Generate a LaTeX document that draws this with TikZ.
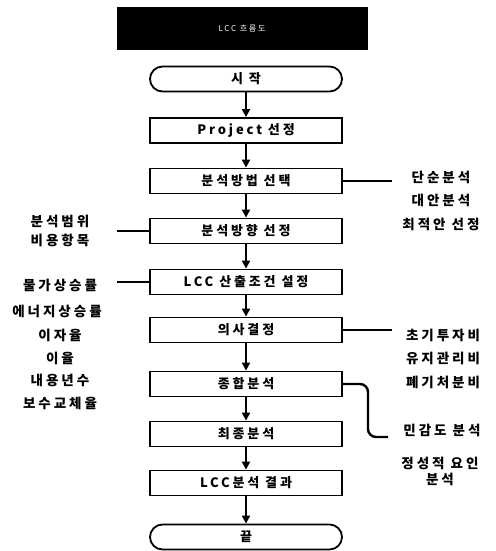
\documentclass[tikz,border=0pt]{standalone}
\usepackage{fontspec}
\usetikzlibrary{arrows.meta}
\newfontfamily\kr[LetterSpace=22]{Noto Sans CJK KR}
\begin{document}
\begin{tikzpicture}[x=1pt,y=-1pt,
  box/.style={draw, line width=1.8pt, minimum width=192pt, minimum height=25pt, inner sep=0pt,
     font=\kr\bfseries\fontsize{13}{14}\selectfont},
  term/.style={box, rounded corners=12.5pt},
  flow/.style={-{Triangle[width=8pt,length=8pt]}, line width=2pt},
  link/.style={line width=2.4pt},
  lbl/.style={font=\kr\bfseries\fontsize{13.5}{15}\selectfont, align=center, inner sep=0pt}]
\useasboundingbox (0,0) rectangle (495,551);
\node[fill=black, minimum width=251pt, minimum height=43pt, inner sep=0pt,
  text=white, font=\kr\fontsize{8}{10}\selectfont] (title) at (242,28.5) {LCC 흐름도};
\node[term] (start) at (246,79) {시 작};
\node[box] (proj) at (246,130.5) {Project 선정};
\node[box] (meth) at (246,181) {분석방법 선택};
\node[box] (dir) at (246,231) {분석방향 선정};
\node[box] (cond) at (246,282) {LCC 산출조건 설정};
\node[box] (dec) at (246,330) {의사결정};
\node[box] (syn) at (246,384) {종합분석};
\node[box] (fin) at (246,434) {최종분석};
\node[box] (res) at (246,483) {LCC분석 결과};
\node[term] (end) at (246,537) {끝};
\foreach \a/\b in {start/proj,proj/meth,meth/dir,dir/cond,cond/dec,dec/syn,syn/fin,fin/res,res/end}
  \draw[flow] (\a) -- (\b);
% side links
\coordinate (r1) at (392,181);
\coordinate (l1) at (117,231);
\coordinate (l2) at (117,282);
\coordinate (r2) at (392,330);
\coordinate (r3) at (388,437);
\draw[link] (meth.east) -- (r1);
\draw[link] (dir.west) -- (l1);
\draw[link] (cond.west) -- (l2);
\draw[link] (dec.east) -- (r2);
\draw[link, rounded corners=8pt] (syn.east) -| (368,420) |- (r3);
% labels
\node[lbl] (a1) at (441,177) {단순분석};
\node[lbl] (a2) at (441,200) {대안분석};
\node[lbl] (a3) at (441,224) {최적안 선정};
\node[lbl] (b1) at (60,221) {분석범위};
\node[lbl] (b2) at (60,240) {비용항목};
\node[lbl] (c1) at (60,285) {물가상승률};
\node[lbl] (c2) at (57,311) {에너지상승률};
\node[lbl] (c3) at (60,335) {이자율};
\node[lbl] (c4) at (60,358) {이율};
\node[lbl] (c5) at (60,380) {내용년수};
\node[lbl] (c6) at (60,403) {보수교체율};
\node[lbl] (d1) at (443,335) {초기투자비};
\node[lbl] (d2) at (443,358) {유지관리비};
\node[lbl] (d3) at (443,382) {폐기처분비};
\node[lbl] (e1) at (442,430) {민감도 분석};
\node[lbl] (e2) at (440,471) {정성적 요인\\[1pt]분석};
\end{tikzpicture}
\end{document}
